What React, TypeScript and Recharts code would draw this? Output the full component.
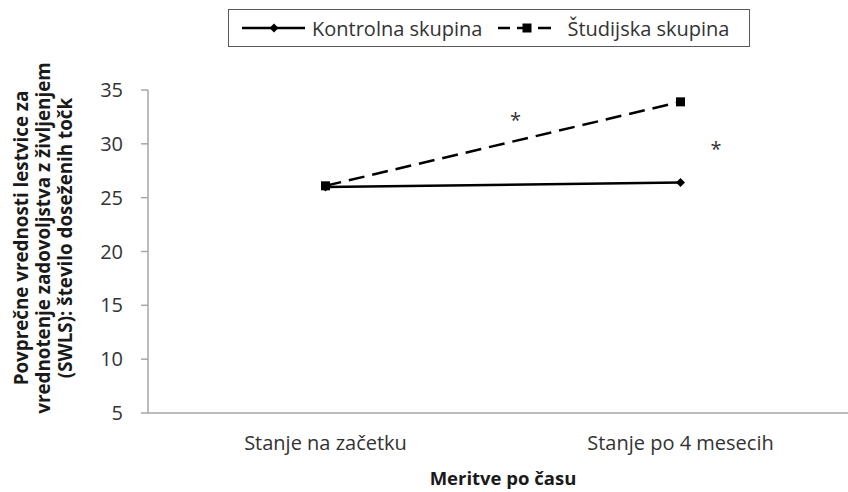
import React from "react";
import {
  LineChart,
  Line,
  XAxis,
  YAxis,
  Legend,
  ReferenceDot,
} from "recharts";

const CATEGORIES = ["Stanje na začetku", "Stanje po 4 mesecih"];
const KONTROLNA = [26.0, 26.4];
const STUDIJSKA = [26.1, 33.9];
const Y_TICKS = [5, 10, 15, 20, 25, 30, 35];
const BOUNDARY_TICKS = [-0.5, 0.5, 1.5];
const SIG_X = [0.535, 1.1];
const SIG_Y = [32.3, 29.6];
const Y_LABEL_LINES = [
  "Povprečne vrednosti lestvice za",
  "vrednotenje zadovoljstva z življenjem",
  "(SWLS): število doseženih točk",
];

const data = CATEGORIES.map((c, i) => ({
  x: i,
  kontrolna: KONTROLNA[i],
  studijska: STUDIJSKA[i],
}));

const FONT = "'Open Sans', sans-serif";
const TEXT = "#333333";
const AXIS = "#a6a6a6";

const Diamond = (props: any) => {
  const { cx, cy } = props;
  if (cx == null || cy == null) return <g key={Math.random()} />;
  return (
    <path
      key={`d-${cx}-${cy}`}
      d={`M${cx},${cy - 4.5} L${cx + 4.5},${cy} L${cx},${cy + 4.5} L${cx - 4.5},${cy} Z`}
      fill="#000"
    />
  );
};

const Square = (props: any) => {
  const { cx, cy } = props;
  if (cx == null || cy == null) return <g key={Math.random()} />;
  return <rect key={`s-${cx}-${cy}`} x={cx - 4.5} y={cy - 4.5} width={9} height={9} fill="#000" />;
};

// legenda v okvirju
const renderLegend = () => (
  <div
    style={{
      display: "flex",
      alignItems: "center",
      height: "100%",
      boxSizing: "border-box",
      border: "1.5px solid #595959",
      paddingLeft: 13,
      fontFamily: FONT,
      fontSize: 20,
      color: TEXT,
      background: "#fff",
      whiteSpace: "nowrap",
    }}
  >
    <svg width={63} height={20}>
      <line x1={0} y1={10} x2={63} y2={10} stroke="#000" strokeWidth={2.5} />
      <path d="M32,5.5 L36.5,10 L32,14.5 L27.5,10 Z" fill="#000" />
    </svg>
    <span style={{ marginLeft: 7 }}>Kontrolna skupina</span>
    <svg width={53} height={20} style={{ marginLeft: 16 }}>
      <line x1={0} y1={10} x2={12} y2={10} stroke="#000" strokeWidth={2.5} />
      <line x1={19} y1={10} x2={25} y2={10} stroke="#000" strokeWidth={2.5} />
      <rect x={24.5} y={5.5} width={9} height={9} fill="#000" />
      <line x1={40} y1={10} x2={53} y2={10} stroke="#000" strokeWidth={2.5} />
    </svg>
    <span style={{ marginLeft: 16 }}>Študijska skupina</span>
  </div>
);

const renderYLabel = () => {
  const cy = 238;
  const xs = [21, 43, 65];
  return (
    <g>
      {Y_LABEL_LINES.map((line, i) => (
        <text
          key={line}
          x={xs[i]}
          y={cy}
          transform={`rotate(-90, ${xs[i]}, ${cy})`}
          textAnchor="middle"
          dominantBaseline="central"
          fontFamily={FONT}
          fontWeight={700}
          fontSize={18.8}
          fill="#1a1a1a"
        >
          {line}
        </text>
      ))}
    </g>
  );
};

export default function App() {
  return (
    <div
      style={{
        position: "fixed",
        left: 0,
        top: 0,
        width: 848,
        height: 492,
        overflow: "hidden",
        background: "#fff",
        fontFamily: FONT,
      }}
    >
      <LineChart
        width={870}
        height={492}
        data={data}
        margin={{ top: 90, right: 12, bottom: 0, left: 0 }}
      >
        {/* os s kljukicami na mejah kategorij */}
        <XAxis
          type="number"
          dataKey="x"
          domain={[-0.5, 1.5]}
          allowDataOverflow
          ticks={BOUNDARY_TICKS}
          tick={false}
          tickSize={6}
          height={7}
          axisLine={{ stroke: AXIS, strokeWidth: 1.5 }}
          tickLine={{ stroke: AXIS, strokeWidth: 1.5 }}
        />
        <XAxis
          xAxisId="labels"
          type="number"
          dataKey="x"
          domain={[-0.5, 1.5]}
          allowDataOverflow
          ticks={[0, 1]}
          tickFormatter={(v: number) => CATEGORIES[v] ?? ""}
          axisLine={false}
          tickLine={false}
          tickSize={0}
          tickMargin={16}
          height={72}
          tick={{ fill: TEXT, fontSize: 20, fontFamily: FONT }}
          label={{
            value: "Meritve po času",
            position: "insideBottom",
            offset: 7,
            fill: "#1a1a1a",
            fontSize: 18.5,
            fontWeight: 700,
            fontFamily: FONT,
          }}
        />
        <YAxis
          domain={[5, 35]}
          ticks={Y_TICKS}
          width={148}
          tickSize={7}
          tickMargin={18}
          axisLine={{ stroke: AXIS, strokeWidth: 1.5 }}
          tickLine={{ stroke: AXIS, strokeWidth: 1.5 }}
          tick={{ fill: TEXT, fontSize: 20, fontFamily: FONT }}
          label={{ content: renderYLabel }}
        />
        <Legend
          layout="horizontal"
          verticalAlign="middle"
          content={renderLegend}
          wrapperStyle={{ position: "absolute", left: 228, top: 9, width: 522, height: 38 }}
        />
        <Line
          name="Kontrolna skupina"
          type="linear"
          dataKey="kontrolna"
          stroke="#000"
          strokeWidth={2.5}
          dot={Diamond}
          activeDot={false}
          isAnimationActive={false}
        />
        <Line
          name="Študijska skupina"
          type="linear"
          dataKey="studijska"
          stroke="#000"
          strokeWidth={2.5}
          strokeDasharray="16 8"
          dot={Square}
          activeDot={false}
          isAnimationActive={false}
        />
        {SIG_X.map((sx, i) => (
          <ReferenceDot
            key={i}
            x={sx}
            y={SIG_Y[i]}
            r={0}
            fill="none"
            stroke="none"
            ifOverflow="visible"
            label={{ value: "*", position: "center", fontSize: 20, fill: TEXT, fontFamily: FONT, dy: 1 }}
          />
        ))}
      </LineChart>
    </div>
  );
}
